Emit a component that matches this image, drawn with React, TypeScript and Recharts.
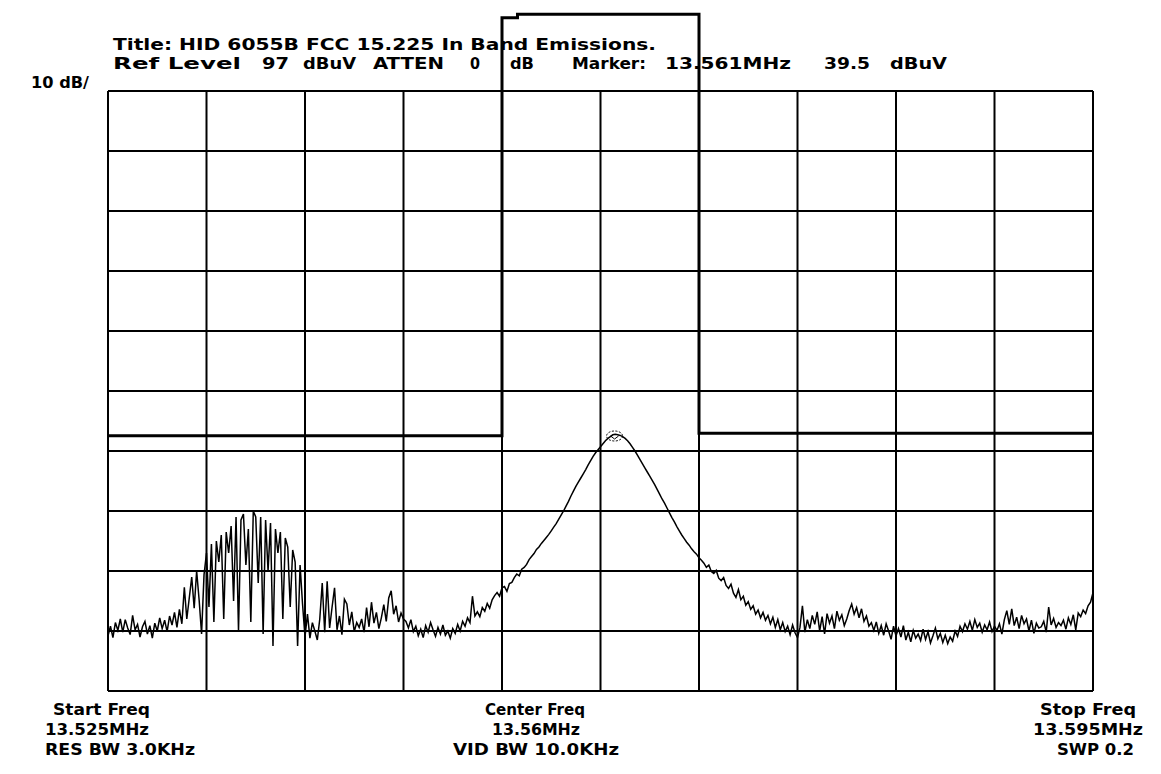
import { LineChart, Line, XAxis, YAxis, ReferenceLine, ReferenceDot } from "recharts";

// ── Analyzer settings (from the screen annotation) ───────────────────────────
const START_F = 13.525;
const STOP_F = 13.595;
const Y_MIN = -3;   // bottom graticule, dBuV (ref 97 - 10 div * 10 dB)
const Y_MAX = 112;  // room above the graticule for the limit mask

const freqTicks = [13.525, 13.532, 13.539, 13.546, 13.553, 13.56, 13.567, 13.574, 13.581, 13.588, 13.595];
const levelTicks = [97, 87, 77, 67, 57, 47, 37, 27, 17, 7, -3];

// ── Measured trace, dBuV, 401 sweep points split by region ───────────────────
const floorLeft = [
  6.2, 7.8, 5.9, 8.4, 7.1, 9.0, 6.8, 8.9, 7.5, 6.4,
  9.6, 7.2, 8.1, 6.0, 7.7, 8.6, 6.5, 7.9, 5.8, 8.3,
  7.0, 9.2, 7.4, 8.8, 6.9, 9.5, 8.0, 10.1, 7.6, 10.6,
];
const burstRise = [8.2, 14.3, 9.0, 12.5, 16.0, 10.8, 17.0, 12.2, 6.5, 16.4];
const burst = [
  20.0, 11.0, 21.5, 8.5, 22.0, 18.5, 23.0, 9.0, 23.5, 20.0,
  24.5, 12.0, 26.0, 7.0, 25.5, 26.5, 18.0, 24.0, 8.5, 27.0,
  26.0, 15.0, 26.0, 6.5, 25.5, 17.0, 25.0, 4.5, 24.0, 20.0,
  23.5, 9.0, 22.5, 21.0, 11.0, 20.5, 18.5, 4.5, 18.0,
];
const spursLeft = [
  11.5, 6.0, 9.8, 5.8, 8.4, 7.0, 5.5, 9.0, 15.0, 6.8,
  15.3, 7.5, 11.0, 14.2, 7.2, 9.5, 6.4, 12.3, 11.5, 8.0,
  10.2, 6.9, 8.4, 7.6, 9.0, 6.8, 10.9, 7.7, 11.8, 8.3,
  10.1, 7.4, 9.2, 11.4, 8.6, 12.5, 13.7, 9.8, 11.2, 8.5,
  10.0, 9.0,
];
const floorMid = [
  8.6, 7.5, 8.9, 6.9, 7.8, 6.2, 7.3, 5.9, 7.9, 6.8,
  8.4, 7.2, 6.1, 7.6, 6.5, 8.0, 6.3, 7.0, 5.8, 7.4,
  6.6, 8.1, 7.0, 8.6, 7.8, 9.2, 8.4, 12.8, 9.5, 10.2,
  9.4, 10.9, 10.3, 11.6, 10.8, 12.2, 12.9, 13.4, 12.8, 14.2,
];
const carrierUp = [
  14.4, 13.6, 14.9, 15.1, 15.9, 16.5, 16.2, 17.3, 17.6, 18.1,
  18.9, 19.4, 19.9, 20.6, 21.0, 21.6, 22.1, 22.6, 23.1, 23.7,
  24.3, 24.9, 25.6, 26.3, 27.0, 27.8, 28.6, 29.5, 30.3, 31.1,
  31.8, 32.5, 33.2, 33.9, 34.7, 35.4, 36.1, 36.7, 37.2, 37.7,
  38.2, 38.7, 39.1, 39.4, 39.7, 39.8,
];
const carrierDown = [
  39.7, 39.6, 39.4, 39.1, 38.7, 38.2, 37.6, 37.0, 36.3, 35.6,
  34.9, 34.2, 33.5, 32.8, 32.1, 31.4, 30.6, 29.8, 29.0, 28.3,
  27.5, 26.7, 25.9, 25.2, 24.4, 23.7, 23.0, 22.4, 21.8, 21.3,
  20.7, 20.2, 19.8, 19.2, 18.8,
];
const skirtRight = [
  18.3, 17.6, 18.0, 16.9, 16.6, 17.1, 15.8, 15.4, 15.9, 14.6,
  14.1, 14.8, 13.3, 12.6, 13.9, 12.2, 12.8, 11.3, 11.9, 10.6,
  11.2, 9.8, 10.5, 9.2, 10.1, 8.8, 9.6, 8.2, 9.3, 7.6,
  8.9, 7.2, 8.4, 6.9, 7.8, 6.4, 8.0, 6.7, 5.9,
];
const floorRight = [
  7.6, 11.2, 6.8, 8.9, 7.4, 9.6, 8.1, 10.2, 7.0, 9.4,
  6.5, 9.9, 8.3, 9.5, 7.4, 10.3, 8.8, 9.7, 7.9, 9.0,
  10.4, 11.5, 9.8, 10.9, 9.2, 10.7, 8.6, 9.5, 7.8, 8.4,
  7.1, 8.5, 6.6, 7.9, 6.3, 8.2, 7.0, 5.6, 7.8, 6.2,
];
const floorLow = [
  7.4, 6.0, 7.9, 5.5, 6.8, 5.2, 7.1, 5.8, 6.5, 5.4,
  7.3, 5.6, 6.9, 5.0, 6.2, 7.5, 5.7, 6.6, 5.1, 6.3,
  4.9, 6.0, 5.3, 7.0, 6.1, 7.8, 6.9, 8.2, 7.3, 8.6,
  7.1, 8.9, 7.6, 8.3, 6.8, 8.0, 7.2, 8.5, 6.9, 7.8,
  7.1, 8.2,
];
const floorEnd = [
  6.5, 8.9, 10.4, 8.1, 10.7, 7.9, 9.3, 7.4, 9.6, 8.2,
  9.0, 7.0, 8.8, 6.6, 8.3, 7.5, 7.7, 8.6, 6.8, 11.0,
  8.0, 9.1, 7.6, 8.4, 7.9, 8.8, 7.3, 9.2, 8.1, 9.7,
  7.2, 10.0, 9.4, 10.5, 9.9, 11.2, 11.8, 13.4,
];

const traceDb = [
  ...floorLeft, ...burstRise, ...burst, ...spursLeft, ...floorMid,
  ...carrierUp, ...carrierDown, ...skirtRight, ...floorRight, ...floorLow, ...floorEnd,
];
const traceData = traceDb.map((v, i) => ({
  f: START_F + (i * (STOP_F - START_F)) / (traceDb.length - 1),
  v,
}));

// FCC 15.225 mask as drawn on screen
const limitF = [13.525, 13.553, 13.553, 13.5541, 13.5541, 13.567, 13.567, 13.595];
const limitDb = [39.55, 39.55, 109.2, 109.2, 109.8, 109.8, 39.95, 39.95];
const limitData = limitF.map((f, i) => ({ f, v: limitDb[i] }));

const markerF = 13.561;
const markerDb = 39.5;

const FONT = "'Liberation Sans Narrow', 'DejaVu Sans Condensed', 'Arial Narrow', sans-serif";

// label, x, baseline, width, font size
type Label = [string, number, number, number, number];
const labels: Label[] = [
  ["Title: HID 6055B FCC 15.225 In Band Emissions.", 113, 50, 543, 15],
  ["Ref Level", 113, 69, 128, 15],
  ["97", 262, 69, 27, 15],
  ["dBuV", 303, 69, 53, 15],
  ["ATTEN", 373, 69, 71, 15],
  ["0", 470, 69, 10, 15],
  ["dB", 510, 69, 24, 15],
  ["Marker:", 572, 69, 74, 15],
  ["13.561MHz", 665, 69, 126, 15],
  ["39.5", 824, 69, 46, 15],
  ["dBuV", 890, 69, 57, 15],
  ["10 dB/", 31, 88, 58, 15],
  ["Start Freq", 53, 715, 97, 16],
  ["13.525MHz", 45, 735, 104, 16],
  ["RES BW 3.0KHz", 45, 755, 150, 16],
  ["Center Freq", 485, 715, 100, 16],
  ["13.56MHz", 492, 735, 88, 16],
  ["VID BW 10.0KHz", 453, 755, 166, 16],
  ["Stop Freq", 1040, 715, 96, 16],
  ["13.595MHz", 1033, 735, 110, 16],
  ["SWP 0.2", 1057, 755, 77, 16],
];

function MarkerShape(props: { cx?: number; cy?: number }) {
  const { cx = 0, cy = 0 } = props;
  return (
    <g>
      <ellipse cx={cx} cy={cy} rx={8} ry={5} fill="none" stroke="#000" strokeWidth={1} strokeDasharray="2 1.5" />
      <path d={`M${cx - 4},${cy} L${cx},${cy + 3} L${cx + 4},${cy}`} fill="none" stroke="#000" strokeWidth={1} />
    </g>
  );
}

export default function App() {
  return (
    <div style={{ position: "absolute", left: 0, top: 0, width: 1161, height: 774, background: "#fff" }}>
      <svg width={1161} height={774} style={{ position: "absolute", left: 0, top: 0 }}>
        {labels.map(([t, x, y, w, size]) => (
          <text
            key={t + x + y}
            x={x}
            y={y}
            textLength={w}
            lengthAdjust="spacingAndGlyphs"
            fontFamily={FONT}
            fontWeight={700}
            fontSize={size}
            fill="#000"
          >
            {t}
          </text>
        ))}
      </svg>
      <div style={{ position: "absolute", left: 0, top: 0 }}>
        <LineChart width={1161} height={774} margin={{ top: 1, right: 68, bottom: 83, left: 108 }}>
          <XAxis type="number" dataKey="f" domain={[START_F, STOP_F]} allowDataOverflow hide />
          <YAxis type="number" dataKey="v" domain={[Y_MIN, Y_MAX]} allowDataOverflow hide />
          {levelTicks.map((y) => (
            <ReferenceLine
              key={"h" + y}
              segment={[{ x: START_F, y }, { x: STOP_F, y }]}
              stroke="#000"
              strokeWidth={2}
            />
          ))}
          {freqTicks.map((x) => (
            <ReferenceLine
              key={"v" + x}
              segment={[{ x, y: Y_MIN }, { x, y: 97 }]}
              stroke="#000"
              strokeWidth={2}
            />
          ))}
          <Line
            data={traceData}
            dataKey="v"
            type="linear"
            stroke="#000"
            strokeWidth={1.5}
            dot={false}
            isAnimationActive={false}
          />
          <Line
            data={limitData}
            dataKey="v"
            type="linear"
            stroke="#000"
            strokeWidth={3}
            dot={false}
            isAnimationActive={false}
          />
          <ReferenceDot x={markerF} y={markerDb} r={6} shape={MarkerShape} />
        </LineChart>
      </div>
    </div>
  );
}
